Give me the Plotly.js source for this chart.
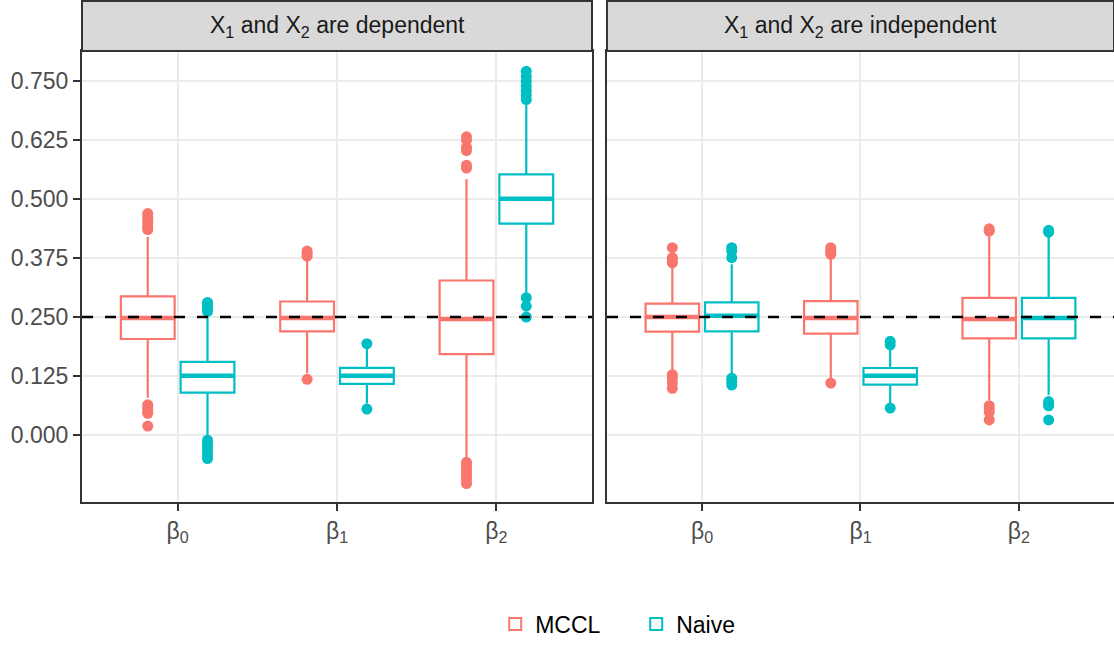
<!DOCTYPE html>
<html>
<head>
<meta charset="utf-8">
<script src="https://cdn.plot.ly/plotly-3.0.1.min.js"></script>
<style>
html,body{margin:0;padding:0;background:#ffffff;}
#chart{width:1114px;height:646px;}
</style>
</head>
<body>
<div id="chart"></div>
<script>
// ---------- data ----------
const categories = [1, 2, 3];
const tickLabels = ['β<sub>0</sub>', 'β<sub>1</sub>', 'β<sub>2</sub>'];
const yTickVals = [0, 0.125, 0.25, 0.375, 0.5, 0.625, 0.75];
const yTickText = ['0.000', '0.125', '0.250', '0.375', '0.500', '0.625', '0.750'];
const panelTitles = ['X<sub>1</sub> and X<sub>2</sub> are dependent', 'X<sub>1</sub> and X<sub>2</sub> are independent'];
const groups = ['MCCL', 'Naive'];
const trueValue = 0.25;

// Panel 1: dependent — MCCL
const depMcclQ1 = [0.2035, 0.2198, 0.1716];
const depMcclMed = [0.248, 0.248, 0.246];
const depMcclQ3 = [0.294, 0.283, 0.3275];
const depMcclLo = [0.079, 0.131, -0.053];
const depMcclHi = [0.420, 0.376, 0.5426];
const depMcclOut = [
  [0.4695, 0.462, 0.455, 0.448, 0.441, 0.4355, 0.064, 0.058, 0.052, 0.046, 0.019],
  [0.390, 0.385, 0.379, 0.118],
  [0.632, 0.625, 0.610, 0.603, 0.572, 0.566, -0.058, -0.065, -0.072, -0.080, -0.088, -0.095, -0.103]
];
// Panel 1: dependent — Naive
const depNaiveQ1 = [0.090, 0.1085, 0.448];
const depNaiveMed = [0.1255, 0.1255, 0.501];
const depNaiveQ3 = [0.155, 0.1425, 0.5525];
const depNaiveLo = [-0.003, 0.067, 0.300];
const depNaiveHi = [0.259, 0.184, 0.700];
const depNaiveOut = [
  [0.281, 0.275, 0.268, 0.262, -0.011, -0.018, -0.026, -0.034, -0.042, -0.050],
  [0.1935, 0.055],
  [0.771, 0.760, 0.750, 0.740, 0.730, 0.720, 0.711, 0.291, 0.273, 0.250]
];
// Panel 2: independent — MCCL
const indMcclQ1 = [0.219, 0.215, 0.205];
const indMcclMed = [0.250, 0.248, 0.246];
const indMcclQ3 = [0.2786, 0.2836, 0.2907];
const indMcclLo = [0.135, 0.120, 0.074];
const indMcclHi = [0.362, 0.376, 0.420];
const indMcclOut = [
  [0.397, 0.376, 0.370, 0.365, 0.128, 0.120, 0.110, 0.099],
  [0.397, 0.392, 0.387, 0.383, 0.110],
  [0.437, 0.432, 0.062, 0.055, 0.048, 0.032]
];
// Panel 2: independent — Naive
const indNaiveQ1 = [0.2198, 0.107, 0.205];
const indNaiveMed = [0.253, 0.1255, 0.248];
const indNaiveQ3 = [0.281, 0.142, 0.2907];
const indNaiveLo = [0.130, 0.067, 0.085];
const indNaiveHi = [0.362, 0.184, 0.420];
const indNaiveOut = [
  [0.397, 0.390, 0.376, 0.1205, 0.113, 0.106],
  [0.1985, 0.191, 0.057],
  [0.434, 0.430, 0.071, 0.066, 0.062, 0.032]
];

// ---------- styling ----------
const colors = {MCCL: '#F8766D', Naive: '#00BFC4'};
const offsets = {MCCL: -0.1875, Naive: 0.1875};
const boxWidth = 0.3375;
const FONT = 'Liberation Sans, Arial, Helvetica, sans-serif';
const FS = 23;

const panelData = [
  {MCCL: {q1: depMcclQ1, med: depMcclMed, q3: depMcclQ3, lo: depMcclLo, hi: depMcclHi, out: depMcclOut},
   Naive: {q1: depNaiveQ1, med: depNaiveMed, q3: depNaiveQ3, lo: depNaiveLo, hi: depNaiveHi, out: depNaiveOut}},
  {MCCL: {q1: indMcclQ1, med: indMcclMed, q3: indMcclQ3, lo: indMcclLo, hi: indMcclHi, out: indMcclOut},
   Naive: {q1: indNaiveQ1, med: indNaiveMed, q3: indNaiveQ3, lo: indNaiveLo, hi: indNaiveHi, out: indNaiveOut}}
];

const traces = [];
panelData.forEach((pd, p) => {
  const xa = p === 0 ? 'x' : 'x2';
  const ya = p === 0 ? 'y' : 'y2';
  groups.forEach(g => {
    const d = pd[g];
    const pos = categories.map(c => c + offsets[g]);
    traces.push({
      type: 'box', name: g, legendgroup: g, showlegend: p === 0,
      xaxis: xa, yaxis: ya,
      x: pos, q1: d.q1, median: d.med, q3: d.q3,
      lowerfence: d.lo, upperfence: d.hi,
      width: boxWidth, whiskerwidth: 0, boxpoints: false,
      fillcolor: '#FFFFFF',
      line: {color: colors[g], width: 2.2},
      hoverinfo: 'skip'
    });
    // thick median lines
    const mx = [], my = [];
    pos.forEach((px, i) => {
      mx.push(px - boxWidth / 2, px + boxWidth / 2, null);
      my.push(d.med[i], d.med[i], null);
    });
    traces.push({
      type: 'scatter', mode: 'lines', x: mx, y: my, xaxis: xa, yaxis: ya,
      line: {color: colors[g], width: 4.5}, showlegend: false, hoverinfo: 'skip'
    });
    // outliers
    const ox = [], oy = [];
    d.out.forEach((arr, i) => arr.forEach(v => { ox.push(pos[i]); oy.push(v); }));
    traces.push({
      type: 'scatter', mode: 'markers', x: ox, y: oy, xaxis: xa, yaxis: ya,
      marker: {color: colors[g], size: 11, line: {width: 0}},
      showlegend: false, hoverinfo: 'skip'
    });
  });
});

const plotH = 451;
const stripH = 50;

const xCommon = {
  range: [0.4, 3.6], tickvals: categories, ticktext: tickLabels,
  ticks: 'outside', ticklen: 7, tickwidth: 2, tickcolor: '#333333',
  showgrid: true, gridcolor: '#EBEBEB', gridwidth: 2, zeroline: false,
  showline: true, mirror: true, linecolor: '#333333', linewidth: 2,
  tickfont: {family: FONT, size: FS, color: '#4D4D4D'}, fixedrange: true
};
const yCommon = {
  range: [-0.142, 0.814], tickvals: yTickVals, ticktext: yTickText,
  ticks: 'outside', ticklen: 7, tickwidth: 2, tickcolor: '#333333',
  showgrid: true, gridcolor: '#EBEBEB', gridwidth: 2, zeroline: false,
  showline: true, mirror: true, linecolor: '#333333', linewidth: 2,
  tickfont: {family: FONT, size: FS, color: '#4D4D4D'}, fixedrange: true
};

const shapes = [];
const annotations = [];
['x', 'x2'].forEach((xa, p) => {
  const ya = p === 0 ? 'y' : 'y2';
  shapes.push({
    type: 'rect', xref: xa + ' domain', x0: 0, x1: 1,
    yref: 'paper', y0: 1, y1: 1 + stripH / plotH,
    fillcolor: '#D9D9D9', line: {color: '#333333', width: 2}
  });
  shapes.push({
    type: 'line', xref: xa + ' domain', x0: 0, x1: 1,
    yref: ya, y0: trueValue, y1: trueValue,
    line: {color: '#000000', width: 2.5, dash: '11px,12px'}
  });
  annotations.push({
    text: panelTitles[p], xref: xa + ' domain', x: 0.5, xanchor: 'center',
    yref: 'paper', y: 1 + (stripH / 2) / plotH, yanchor: 'middle',
    showarrow: false, font: {family: FONT, size: FS, color: '#1A1A1A'}
  });
});

const layout = {
  width: 1114, height: 646,
  margin: {l: 82, r: 0, t: 51, b: 144, pad: 0},
  paper_bgcolor: '#FFFFFF', plot_bgcolor: '#FFFFFF',
  font: {family: FONT, size: FS, color: '#000000'},
  boxmode: 'overlay', hovermode: false,
  xaxis: Object.assign({}, xCommon, {domain: [0, 0.4942], anchor: 'y'}),
  xaxis2: Object.assign({}, xCommon, {domain: [0.5087, 1], anchor: 'y2'}),
  yaxis: Object.assign({}, yCommon, {anchor: 'x'}),
  yaxis2: Object.assign({}, yCommon, {anchor: 'x2', matches: 'y', showticklabels: false, ticks: ''}),
  shapes: shapes, annotations: annotations,
  showlegend: true,
  legend: {
    orientation: 'h', x: 0.4004, xanchor: 'left', y: -0.2705, yanchor: 'middle',
    entrywidth: 96, entrywidthmode: 'pixels', itemsizing: 'constant',
    font: {family: FONT, size: FS, color: '#000000'}, bgcolor: 'rgba(0,0,0,0)'
  }
};

Plotly.newPlot('chart', traces, layout, {displayModeBar: false, staticPlot: true});
</script>
</body>
</html>
